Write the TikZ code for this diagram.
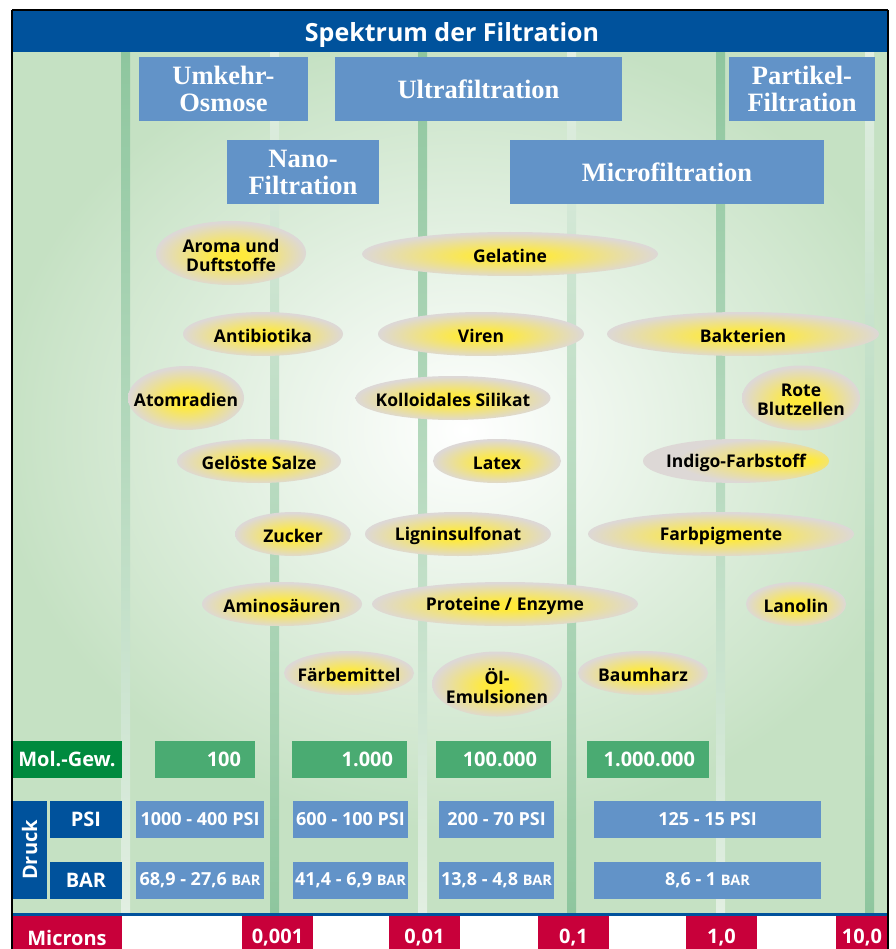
\documentclass[tikz,border=0pt]{standalone}
\usepackage{fontspec}
\usepackage{graphicx}
\setmainfont{Liberation Serif}
\newfontfamily\osans{Open Sans}
\usetikzlibrary{shapes.geometric}
\definecolor{titleblue}{RGB}{0,82,156}
\definecolor{boxblue}{RGB}{98,147,200}
\definecolor{molgreen}{RGB}{0,138,62}
\definecolor{valgreen}{RGB}{74,171,114}
\definecolor{mred}{RGB}{200,0,58}
\definecolor{bggreen}{RGB}{197,225,195}
\definecolor{sdark}{RGB}{142,198,158}
\definecolor{slight}{RGB}{226,239,226}
\definecolor{yel}{RGB}{255,234,60}
\definecolor{ellgray}{RGB}{221,216,214}
\pgfdeclareradialshading{ellC}{\pgfpoint{0bp}{-2bp}}{color(0bp)=(yel); color(5bp)=(yel); color(25bp)=(ellgray); color(50bp)=(ellgray)}
\pgfdeclareradialshading{ellR}{\pgfpoint{18bp}{0bp}}{color(0bp)=(yel); color(4bp)=(yel); color(25bp)=(ellgray); color(50bp)=(ellgray)}
\begin{document}
\begin{tikzpicture}[x=1pt,y=-1pt,
  catbox/.style={fill=boxblue, text=white, font=\bfseries\fontsize{26.5}{27}\selectfont, align=center, inner sep=0pt},
  blob/.style={shape=ellipse, inner sep=0pt, shading=ellC},
  lab/.style={font=\osans\bfseries\fontsize{17.5}{19}\selectfont, align=center, text=black, yshift=-2pt},
  head/.style={text=white, font=\osans\bfseries\fontsize{20}{22}\selectfont, inner sep=0pt, minimum height=37},
  molval/.style={fill=valgreen, text=white, font=\osans\bfseries\fontsize{20}{22}\selectfont, inner ysep=0pt, inner xsep=14pt, align=right, minimum height=37},
  pval/.style={fill=boxblue, text=white, font=\osans\bfseries\fontsize{18}{20}\selectfont, inner sep=0pt, minimum height=37},
  micr/.style={fill=mred, text=white, font=\osans\bfseries\fontsize{20}{22}\selectfont, inner sep=0pt, minimum height=44},
  stripeA/.style={top color=sdark, bottom color=slight},
  stripeB/.style={top color=slight, bottom color=sdark}]
\useasboundingbox (0,0) rectangle (895,949);
\fill[white] (0,0) rectangle (895,949);
% background
\fill[bggreen] (12,52) rectangle (888,913);
\begin{scope}
  \clip (12,52) rectangle (888,913);
  \shade[inner color=white, outer color=bggreen] (465,430) ellipse (470 and 400);
\end{scope}
% stripes
\shade[stripeA] (121,52) rectangle (130,913);
\shade[stripeB] (270,52) rectangle (279,913);
\shade[stripeA] (418,52) rectangle (427,913);
\shade[stripeB] (567,52) rectangle (576,913);
\shade[stripeA] (716,52) rectangle (725,913);
\shade[stripeB] (865,52) rectangle (874,913);
% title
\fill[titleblue] (12,10) rectangle (888,52);
\node[text=white, anchor=base, inner sep=0pt, font=\osans\bfseries\fontsize{25}{27}\selectfont] (title) at (452,42) {Spektrum der Filtration};
% categories
\node[catbox, minimum width=169, minimum height=64] (umkehr) at (223.5,89) {Umkehr-\\Osmose};
\node[catbox, minimum width=287, minimum height=64] (ultra) at (478.5,89) {Ultrafiltration};
\node[catbox, minimum width=146, minimum height=64] (partikel) at (802,89) {Partikel-\\Filtration};
\node[catbox, minimum width=152, minimum height=64] (nano) at (303,172) {Nano-\\Filtration};
\node[catbox, minimum width=314, minimum height=64] (micro) at (667,172) {Microfiltration};
% substances
\node[blob, minimum width=150, minimum height=64, label={[lab]center:Aroma und\\Duftstoffe}] (aroma) at (231,253) {};
\node[blob, minimum width=296, minimum height=44, label={[lab]center:Gelatine}] (gelatine) at (510,254) {};
\node[blob, minimum width=160, minimum height=44, label={[lab]center:Antibiotika}] (antibiotika) at (263,334) {};
\node[blob, minimum width=206, minimum height=44, label={[lab]center:Viren}] (viren) at (481,334) {};
\node[blob, minimum width=272, minimum height=44, label={[lab]center:Bakterien}] (bakterien) at (743,334) {};
\node[blob, minimum width=116, minimum height=64, label={[lab]center:Atomradien}] (atom) at (186,398) {};
\node[blob, minimum width=195, minimum height=44, label={[lab]center:Kolloidales Silikat}] (silikat) at (453,398) {};
\node[blob, minimum width=118, minimum height=65, label={[lab]center:Rote\\Blutzellen}] (blut) at (801,398) {};
\node[blob, minimum width=164, minimum height=44, label={[lab]center:Gelöste Salze}] (salze) at (259,461) {};
\node[blob, minimum width=128, minimum height=44, label={[lab]center:Latex}] (latex) at (497,461) {};
\node[blob, shading=ellR, minimum width=186, minimum height=44, label={[lab]center:Indigo-Farbstoff}] (indigo) at (736,461) {};
\node[blob, minimum width=116, minimum height=44, label={[lab]center:Zucker}] (zucker) at (293,534) {};
\node[blob, minimum width=186, minimum height=44, label={[lab]center:Ligninsulfonat}] (lignin) at (458,534) {};
\node[blob, minimum width=266, minimum height=44, label={[lab]center:Farbpigmente}] (farbpig) at (721,534) {};
\node[blob, minimum width=160, minimum height=44, label={[lab]center:Aminosäuren}] (amino) at (282,604) {};
\node[blob, minimum width=266, minimum height=44, label={[lab]center:Proteine / Enzyme}] (protein) at (505,604) {};
\node[blob, minimum width=100, minimum height=44, label={[lab]center:Lanolin}] (lanolin) at (796,604) {};
\node[blob, minimum width=130, minimum height=44, label={[lab]center:Färbemittel}] (faerbe) at (349,673) {};
\node[blob, minimum width=130, minimum height=65, label={[lab]center:Öl-\\Emulsionen}] (oel) at (497,684) {};
\node[blob, minimum width=130, minimum height=44, label={[lab]center:Baumharz}] (baumharz) at (643,673) {};
% molecular weight
\node[head, fill=molgreen, minimum width=110] (mol) at (67,759.5) {Mol.-Gew.};
\node[molval, text width=72] (m1) at (205,759.5) {100};
\node[molval, text width=87] (m2) at (349.5,759.5) {1.000};
\node[molval, text width=87] (m3) at (493.5,759.5) {100.000};
\node[molval, text width=94] (m4) at (648,759.5) {1.000.000};
% pressure
\node[fill=titleblue, minimum width=35, minimum height=98, inner sep=0pt, text=white, font=\osans\bfseries\fontsize{20}{22}\selectfont] (druck) at (29.5,850) {\rotatebox{90}{Druck}};
\node[head, fill=titleblue, minimum width=72] (psi) at (86,819.5) {PSI};
\node[head, fill=titleblue, minimum width=72] (bar) at (86,880.5) {BAR};
\node[pval, minimum width=128] (p1) at (200,819.5) {1000 - 400 PSI};
\node[pval, minimum width=115] (p2) at (350.5,819.5) {600 - 100 PSI};
\node[pval, minimum width=115] (p3) at (496.5,819.5) {200 - 70 PSI};
\node[pval, minimum width=227] (p4) at (707.5,819.5) {125 - 15 PSI};
\node[pval, minimum width=128] (b1) at (200,880.5) {68,9 - 27,6 {\fontsize{14.5}{16}\selectfont BAR}};
\node[pval, minimum width=115] (b2) at (350.5,880.5) {41,4 - 6,9 {\fontsize{14.5}{16}\selectfont BAR}};
\node[pval, minimum width=115] (b3) at (496.5,880.5) {13,8 - 4,8 {\fontsize{14.5}{16}\selectfont BAR}};
\node[pval, minimum width=227] (b4) at (707.5,880.5) {8,6 - 1 {\fontsize{14.5}{16}\selectfont BAR}};
% microns
\fill[titleblue] (12,913) rectangle (888,916);
\node[micr, minimum width=110] (microns) at (67,938) {Microns};
\node[micr, minimum width=71] (u1) at (277.5,938) {0,001};
\node[micr, minimum width=71] (u2) at (424.5,938) {0,01};
\node[micr, minimum width=71] (u3) at (573.5,938) {0,1};
\node[micr, minimum width=71] (u4) at (721.5,938) {1,0};
\node[micr, minimum width=52] (u5) at (862,938) {10,0};
% frame
\draw[black, line width=1.5pt] (12,10) -- (888,10);
\draw[black, line width=1.5pt] (12,10) -- (12,960);
\draw[black, line width=1.5pt] (888,10) -- (888,960);
\end{tikzpicture}
\end{document}
